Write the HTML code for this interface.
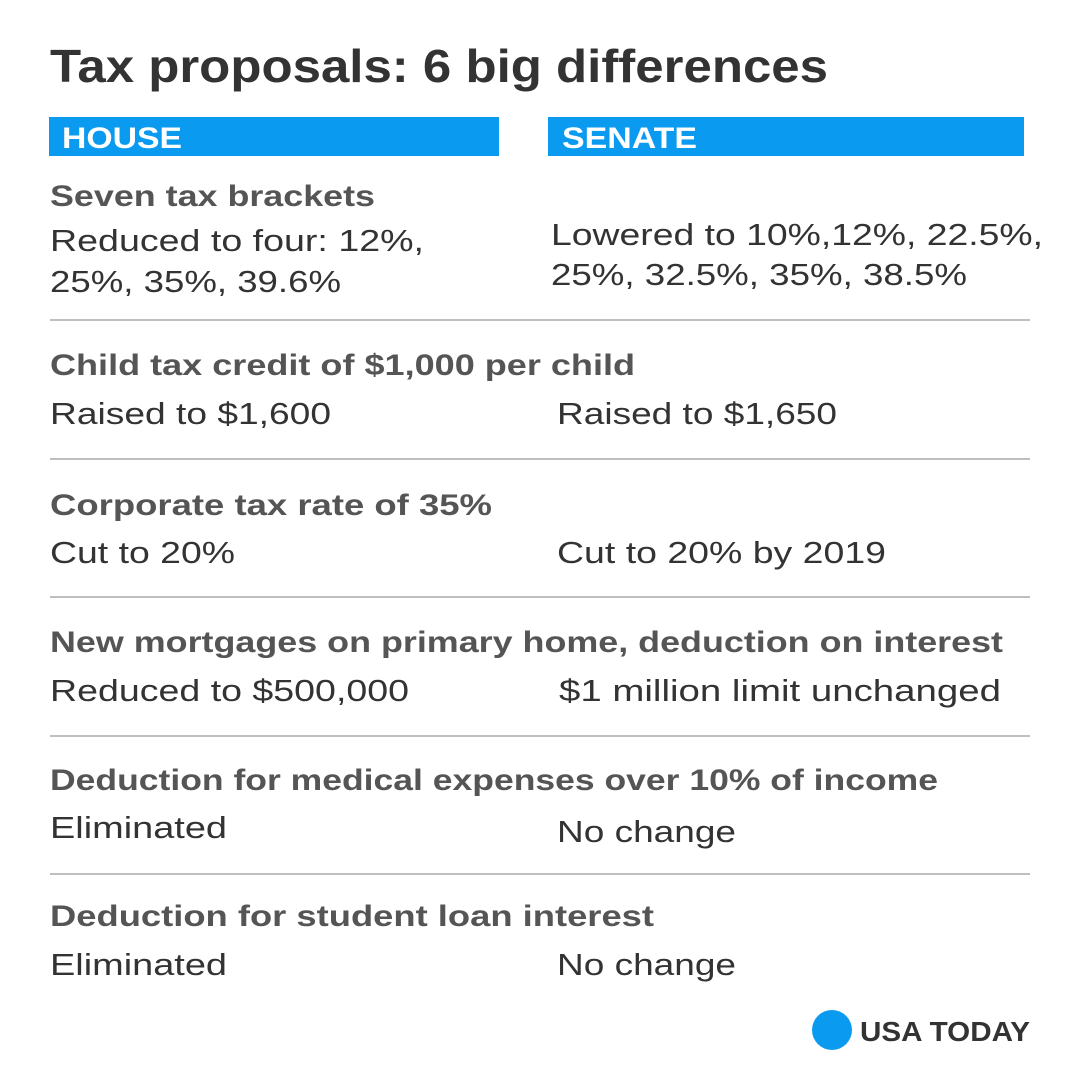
<!DOCTYPE html>
<html>
<head>
<meta charset="utf-8">
<style>
html,body{margin:0;padding:0;background:#fff;}
svg{display:block;}
text{font-family:"Liberation Sans",sans-serif;}
.h{font-weight:bold;font-size:30px;fill:#555;}
.b{font-size:31px;fill:#333;}
</style>
</head>
<body>
<svg width="1080" height="1084" viewBox="0 0 1080 1084">
<rect width="1080" height="1084" fill="#fff"/>
<text x="50" y="82" font-size="46" font-weight="bold" fill="#333" textLength="778" lengthAdjust="spacingAndGlyphs">Tax proposals: 6 big differences</text>

<rect x="49" y="117" width="450" height="39" fill="#0a9af0"/>
<text x="62" y="148" font-size="30" font-weight="bold" fill="#fff" textLength="120" lengthAdjust="spacingAndGlyphs">HOUSE</text>
<rect x="548" y="117" width="476" height="39" fill="#0a9af0"/>
<text x="562" y="148" font-size="30" font-weight="bold" fill="#fff" textLength="135" lengthAdjust="spacingAndGlyphs">SENATE</text>

<text class="h" x="50" y="206" textLength="325" lengthAdjust="spacingAndGlyphs">Seven tax brackets</text>
<text class="b" x="50" y="251" textLength="374" lengthAdjust="spacingAndGlyphs">Reduced to four: 12%,</text>
<text class="b" x="50" y="292" textLength="291" lengthAdjust="spacingAndGlyphs">25%, 35%, 39.6%</text>
<text class="b" x="551" y="245" textLength="492" lengthAdjust="spacingAndGlyphs">Lowered to 10%,12%, 22.5%,</text>
<text class="b" x="551" y="285" textLength="416" lengthAdjust="spacingAndGlyphs">25%, 32.5%, 35%, 38.5%</text>
<line x1="50" y1="320" x2="1030" y2="320" stroke="#aaa" stroke-width="1.5"/>

<text class="h" x="50" y="375" textLength="585" lengthAdjust="spacingAndGlyphs">Child tax credit of $1,000 per child</text>
<text class="b" x="50" y="424" textLength="281" lengthAdjust="spacingAndGlyphs">Raised to $1,600</text>
<text class="b" x="557" y="424" textLength="280" lengthAdjust="spacingAndGlyphs">Raised to $1,650</text>
<line x1="50" y1="459" x2="1030" y2="459" stroke="#aaa" stroke-width="1.5"/>

<text class="h" x="50" y="515" textLength="442" lengthAdjust="spacingAndGlyphs">Corporate tax rate of 35%</text>
<text class="b" x="50" y="563" textLength="185" lengthAdjust="spacingAndGlyphs">Cut to 20%</text>
<text class="b" x="557" y="563" textLength="329" lengthAdjust="spacingAndGlyphs">Cut to 20% by 2019</text>
<line x1="50" y1="597" x2="1030" y2="597" stroke="#aaa" stroke-width="1.5"/>

<text class="h" x="50" y="652" textLength="953" lengthAdjust="spacingAndGlyphs">New mortgages on primary home, deduction on interest</text>
<text class="b" x="50" y="701" textLength="359" lengthAdjust="spacingAndGlyphs">Reduced to $500,000</text>
<text class="b" x="559" y="701" textLength="442" lengthAdjust="spacingAndGlyphs">$1 million limit unchanged</text>
<line x1="50" y1="736" x2="1030" y2="736" stroke="#aaa" stroke-width="1.5"/>

<text class="h" x="50" y="790" textLength="888" lengthAdjust="spacingAndGlyphs">Deduction for medical expenses over 10% of income</text>
<text class="b" x="50" y="838" textLength="177" lengthAdjust="spacingAndGlyphs">Eliminated</text>
<text class="b" x="557" y="842" textLength="179" lengthAdjust="spacingAndGlyphs">No change</text>
<line x1="50" y1="874" x2="1030" y2="874" stroke="#aaa" stroke-width="1.5"/>

<text class="h" x="50" y="926" textLength="604" lengthAdjust="spacingAndGlyphs">Deduction for student loan interest</text>
<text class="b" x="50" y="975" textLength="177" lengthAdjust="spacingAndGlyphs">Eliminated</text>
<text class="b" x="557" y="975" textLength="179" lengthAdjust="spacingAndGlyphs">No change</text>

<circle cx="832" cy="1030" r="20" fill="#0a9af0"/>
<text x="860" y="1041" font-size="28" font-weight="bold" fill="#333" textLength="170" lengthAdjust="spacingAndGlyphs">USA TODAY</text>
</svg>
</body>
</html>
